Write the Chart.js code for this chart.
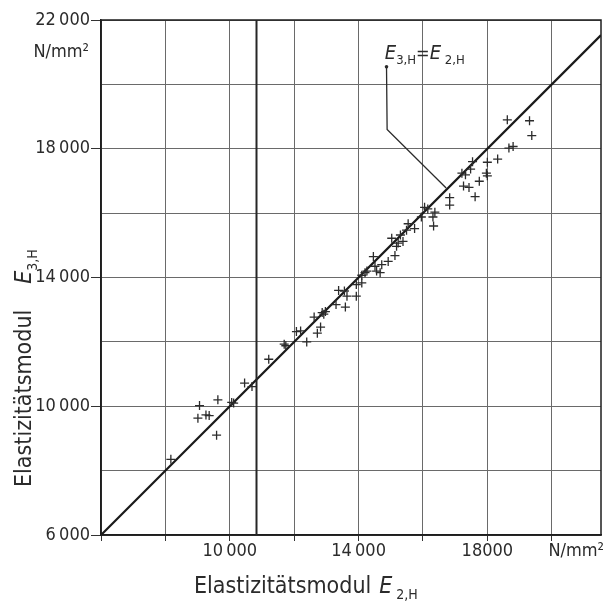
<!DOCTYPE html>
<html>
<head>
<meta charset="utf-8">
<title>Elastizitätsmodul E3,H über E2,H</title>
<script src="https://cdn.jsdelivr.net/npm/chart.js@4.4.1/dist/chart.umd.min.js"></script>
<style>
  html, body { margin: 0; padding: 0; background: #fff; }
  canvas { display: block; }
</style>
</head>
<body>
<canvas id="emodChart" width="615" height="601"></canvas>
<script>
// Messwerte (N/mm²): E-Modul Versuch 2 (x) gegen Versuch 3 (y)
const e2h = [8170, 9010, 9060, 9260, 9360, 9590, 9630, 10060, 10120, 10460, 10690,
  11210, 11690, 11740, 12070, 12200, 12390, 12620, 12720, 12820, 12870, 12920, 12970,
  13300, 13380, 13560, 13590, 13640, 13930, 13930, 14100,
  14100, 14200, 14260, 14460, 14510, 14560, 14670, 14720, 14920, 15030, 15130, 15180,
  15230, 15300, 15380, 15490, 15540, 15740, 15950, 16050, 16150, 16310, 16330, 16370,
  16830, 16830, 17210, 17260, 17320, 17430, 17480, 17540, 17620, 17750, 17970, 18000,
  18000, 18320,
  18620, 18670, 18800, 19310, 19380];
const e3h = [8350, 9630, 10020, 9730, 9710, 9100, 10200, 10120, 10100, 10720, 10610,
  11460, 11930, 11880, 12320, 12340, 12000, 12770, 12270, 12460, 12910, 12860, 12940,
  13160, 13600, 13580, 13080, 13420, 13420, 13780, 13830,
  14070, 14150, 14200, 14650, 14350, 14200, 14150, 14400, 14500, 15220, 14680, 14970,
  15070, 15320, 15120, 15470, 15670, 15520, 15880, 16180, 16130, 15880, 15600, 16030,
  16480, 16250, 17240, 16840, 17190, 16800, 17370, 17600, 16510, 16990, 17240, 17580,
  17160, 17680,
  18900, 18020, 18070, 18870, 18410];

// Gerade E3,H = E2,H
const lineEnds = [6000, 21530];

// Achsen
const xTicks = [6000, 8000, 10000, 12000, 14000, 16000, 18000, 20000];
const yTicks = [6000, 8000, 10000, 12000, 14000, 16000, 18000, 20000, 22000];
const xTickLabels = { 10000: "10\u2009000", 14000: "14\u2009000", 18000: "18000" };
const yTickLabels = { 6000: "6\u2009000", 10000: "10\u2009000", 14000: "14\u2009000", 18000: "18\u2009000", 22000: "22\u2009000" };
const unitLabel = "N/mm²";

const FONT = '"DejaVu Sans Condensed", "DejaVu Sans", sans-serif';
const INK = "#2b2b2b";

// Beschriftung der Geraden (Datenkoordinaten)
const note = { text: [14815, 20790], dot: [14868, 20545], elbow: [14887, 18600], end: [16720, 16780] };
// dunkler Falz im Scan
const scanFold = 10830;

function drawParts(ctx, parts, x, y) {
  let cx = x;
  parts.forEach(p => {
    ctx.font = p.font;
    ctx.fillText(p.text, cx, y + (p.dy || 0));
    cx += ctx.measureText(p.text).width + (p.gap || 0);
  });
}

const decorPlugin = {
  id: "decor",
  beforeDraw(chart) {
    const ctx = chart.ctx;
    ctx.save();
    ctx.fillStyle = "#fff";
    ctx.fillRect(0, 0, chart.width, chart.height);
    ctx.restore();
  },
  afterDatasetsDraw(chart) {
    const { ctx, chartArea: a, scales: { x, y } } = chart;
    ctx.save();

    // Rahmen oben/rechts
    ctx.strokeStyle = "#1e1e1e";
    ctx.lineWidth = 1.5;
    ctx.strokeRect(a.left, a.top, a.right - a.left, a.bottom - a.top);

    // Falz
    ctx.strokeStyle = "#262626";
    ctx.lineWidth = 2;
    ctx.beginPath();
    ctx.moveTo(x.getPixelForValue(scanFold), a.top);
    ctx.lineTo(x.getPixelForValue(scanFold), a.bottom);
    ctx.stroke();

    // Hinweislinie
    ctx.strokeStyle = INK;
    ctx.lineWidth = 1.3;
    ctx.beginPath();
    ctx.moveTo(x.getPixelForValue(note.dot[0]), y.getPixelForValue(note.dot[1]));
    ctx.lineTo(x.getPixelForValue(note.elbow[0]), y.getPixelForValue(note.elbow[1]));
    ctx.lineTo(x.getPixelForValue(note.end[0]), y.getPixelForValue(note.end[1]));
    ctx.stroke();
    ctx.fillStyle = INK;
    ctx.beginPath();
    ctx.arc(x.getPixelForValue(note.dot[0]), y.getPixelForValue(note.dot[1]), 1.8, 0, Math.PI * 2);
    ctx.fill();

    ctx.textBaseline = "alphabetic";
    ctx.textAlign = "left";
    drawParts(ctx, [
      { text: "E", font: "italic 20px " + FONT },
      { text: "3,H", font: "13px " + FONT, dy: 5 },
      { text: "=", font: "18px " + FONT },
      { text: "E", font: "italic 20px " + FONT },
      { text: " 2,H", font: "13px " + FONT, dy: 5 }
    ], x.getPixelForValue(note.text[0]), y.getPixelForValue(note.text[1]));

    // Einheiten
    ctx.font = "18px " + FONT;
    ctx.textAlign = "right";
    ctx.textBaseline = "middle";
    ctx.fillText(unitLabel, a.right + 3, a.bottom + 16);
    ctx.fillText(unitLabel, a.left - 12, y.getPixelForValue(21000));

    // Achsentitel
    ctx.textAlign = "left";
    ctx.textBaseline = "alphabetic";
    drawParts(ctx, [
      { text: "Elastizitätsmodul", font: "23px " + FONT, gap: 8 },
      { text: "E", font: "italic 23px " + FONT },
      { text: " 2,H", font: "14px " + FONT, dy: 6 }
    ], 194, 593);

    ctx.translate(31, 487);
    ctx.rotate(-Math.PI / 2);
    drawParts(ctx, [
      { text: "Elastizitätsmodul", font: "23px " + FONT, gap: 26 },
      { text: "E", font: "italic 23px " + FONT },
      { text: "3,H", font: "14px " + FONT, dy: 6 }
    ], 0, 0);

    ctx.restore();
  }
};

const points = e2h.map((v, i) => ({ x: v, y: e3h[i] }));

new Chart(document.getElementById("emodChart"), {
  type: "scatter",
  data: {
    datasets: [
      {
        label: "Messwerte",
        data: points,
        pointStyle: "cross",
        pointRadius: 4.5,
        borderWidth: 1.3,
        borderColor: INK,
        backgroundColor: INK
      },
      {
        label: "E3,H = E2,H",
        data: lineEnds.map(v => ({ x: v, y: v })),
        showLine: true,
        pointRadius: 0,
        borderColor: "#1a1a1a",
        borderWidth: 2.2
      }
    ]
  },
  options: {
    responsive: false,
    animation: false,
    devicePixelRatio: 1,
    layout: { padding: { top: 20, right: 14, left: 0, bottom: 0 } },
    plugins: { legend: { display: false }, tooltip: { enabled: false } },
    scales: {
      x: {
        type: "linear",
        min: 6000,
        max: 21530,
        afterBuildTicks(scale) { scale.ticks = xTicks.map(v => ({ value: v })); },
        afterFit(scale) { scale.height = 66; },
        grid: { color: "#6a6a6a", lineWidth: 1, tickLength: 6, tickColor: "#333" },
        border: { color: "#1e1e1e", width: 1.5 },
        ticks: {
          autoSkip: false,
          maxRotation: 0,
          padding: 0,
          color: INK,
          font: { family: FONT, size: 18 },
          callback: v => xTickLabels[v] || ""
        }
      },
      y: {
        type: "linear",
        min: 6000,
        max: 22000,
        afterBuildTicks(scale) { scale.ticks = yTicks.map(v => ({ value: v })); },
        afterFit(scale) { scale.width = 101; },
        grid: {
          color: "#6a6a6a",
          lineWidth: 1,
          tickLength: 10,
          tickColor: ctx => (yTickLabels[ctx.tick && ctx.tick.value] ? "#333" : "rgba(0,0,0,0)")
        },
        border: { color: "#1e1e1e", width: 1.5 },
        ticks: {
          autoSkip: false,
          padding: 1,
          color: INK,
          font: { family: FONT, size: 18 },
          callback: v => yTickLabels[v] || ""
        }
      }
    }
  },
  plugins: [decorPlugin]
});
</script>
</body>
</html>
